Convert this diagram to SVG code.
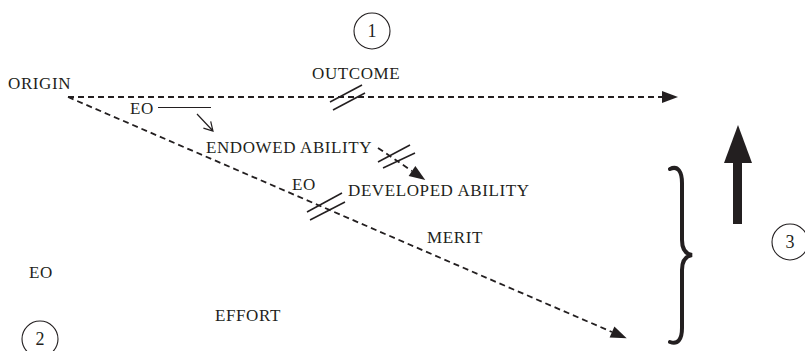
<svg xmlns="http://www.w3.org/2000/svg" width="805" height="351" viewBox="0 0 805 351">
  <style>
    .t { font-family: "Liberation Serif", "Times New Roman", serif; font-size: 17px; letter-spacing: 0.6px; fill: #231f20; }
    .num { font-family: "Liberation Serif", "Times New Roman", serif; font-size: 18px; fill: #231f20; text-anchor: middle; }
    .circ { fill: none; stroke: #231f20; stroke-width: 1.1; }
    .dash { fill: none; stroke: #231f20; stroke-width: 1.8; stroke-dasharray: 6 4; }
    .slash { fill: none; stroke: #231f20; stroke-width: 1.5; }
    .thin { fill: none; stroke: #231f20; stroke-width: 1.2; }
  </style>
  <defs>
    <marker id="tri" markerUnits="userSpaceOnUse" markerWidth="17" markerHeight="12" refX="0" refY="6" orient="auto" overflow="visible">
      <path d="M0,0 L16,6 L0,12 z" fill="#231f20"/>
    </marker>
  </defs>
  <rect width="805" height="351" fill="#ffffff"/>

  <g id="origin"><text class="t" x="8" y="89">ORIGIN</text></g>
  <g id="marker-1"><circle class="circ" cx="372" cy="31" r="18"/><text class="num" x="372" y="37">1</text></g>
  <g id="outcome"><text class="t" x="312" y="79">OUTCOME</text></g>
  <g id="eo-top"><text class="t" x="130" y="114">EO</text></g>
  <g id="endowed-ability"><text class="t" x="206" y="153">ENDOWED ABILITY</text></g>
  <g id="eo-mid"><text class="t" x="292" y="190">EO</text></g>
  <g id="developed-ability"><text class="t" x="348" y="196">DEVELOPED ABILITY</text></g>
  <g id="merit"><text class="t" x="427" y="243">MERIT</text></g>
  <g id="eo-left"><text class="t" x="29" y="278">EO</text></g>
  <g id="effort"><text class="t" x="215" y="321">EFFORT</text></g>
  <g id="marker-2"><circle class="circ" cx="40" cy="339" r="18"/><text class="num" x="40" y="345">2</text></g>
  <g id="marker-3"><circle class="circ" cx="790" cy="242" r="18"/><text class="num" x="790" y="248">3</text></g>
  <g id="brace">
    <path d="M670,169 C678,165 682,172 682,183 L682,240 C682,250 686,254 692,255 C686,256 682,260 682,270 L682,328 C682,339 678,345 670,342" fill="none" stroke="#231f20" stroke-width="4" stroke-linecap="round"/>
  </g>
  <g id="up-arrow">
    <rect x="733" y="162" width="9" height="62" fill="#231f20"/>
    <path d="M738,125 L752,163 L724,163 z" fill="#231f20"/>
  </g>

  <g id="connectors">
    <line class="dash" x1="68" y1="97" x2="662" y2="97" marker-end="url(#tri)"/>
    <line class="dash" x1="68" y1="97" x2="612" y2="332" marker-end="url(#tri)"/>
    <line class="dash" x1="378" y1="148" x2="412" y2="171" marker-end="url(#tri)"/>
    <line class="thin" x1="158" y1="107.5" x2="211" y2="107.5"/>
    <path class="thin" d="M197,114 L213,131 M210.7,121.3 L213,131 L203.4,128.1"/>
    <line class="slash" x1="330" y1="102" x2="362" y2="85"/>
    <line class="slash" x1="333" y1="110" x2="365" y2="93"/>
    <line class="slash" x1="307" y1="212" x2="342" y2="193"/>
    <line class="slash" x1="310" y1="220" x2="345" y2="202"/>
    <line class="slash" x1="378" y1="162" x2="410" y2="145"/>
    <line class="slash" x1="383" y1="168" x2="415" y2="153"/>
  </g>
</svg>
